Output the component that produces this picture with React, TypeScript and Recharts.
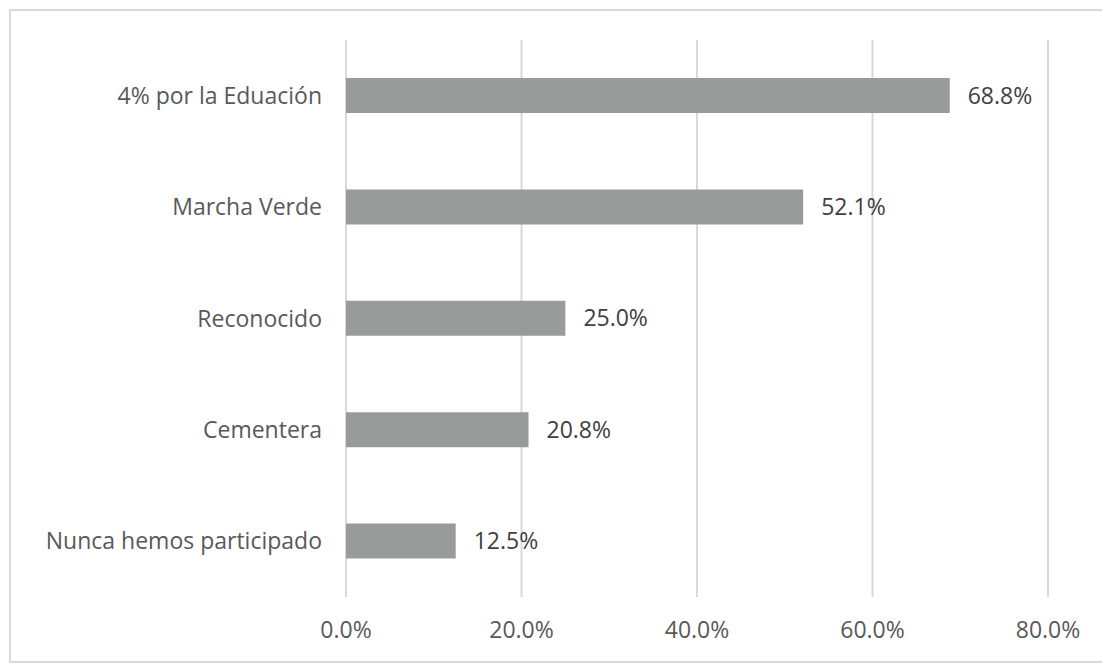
import { BarChart, Bar, XAxis, YAxis, CartesianGrid, LabelList } from 'recharts';

const categories = [
  '4% por la Eduación',
  'Marcha Verde',
  'Reconocido',
  'Cementera',
  'Nunca hemos participado',
];
const values = [68.8, 52.1, 25.0, 20.8, 12.5];
const xTicks = [0, 20, 40, 60, 80];

const data = categories.map((name, i) => ({ name, value: values[i] }));

const font = '"Open Sans", "Liberation Sans", sans-serif';

export default function App() {
  return (
    <div style={{ position: 'absolute', left: 0, top: 0, width: 1102, height: 667, background: '#fff', overflow: 'hidden', fontFamily: font }}>
      <div
        style={{
          position: 'absolute',
          left: 9,
          top: 9,
          width: 1110,
          height: 650,
          border: '2px solid #d9d9d9',
        }}
      />
      <div style={{ position: 'absolute', left: 0, top: 0 }}>
        <BarChart
          width={1102}
          height={667}
          data={data}
          layout="vertical"
          margin={{ top: 40, right: 54, bottom: 40, left: 0 }}
          barCategoryGap={0}
        >
          <CartesianGrid horizontal={false} stroke="#d9d9d9" strokeWidth={2} />
          <XAxis
            type="number"
            domain={[0, 80]}
            ticks={xTicks}
            height={30}
            axisLine={false}
            tickLine={false}
            tickMargin={19}
            tickFormatter={(v: number) => `${v.toFixed(1)}%`}
            tick={{ fill: '#595959', fontSize: 23, fontFamily: font }}
          />
          <YAxis
            type="category"
            dataKey="name"
            width={346}
            axisLine={false}
            tickLine={false}
            tickMargin={18}
            tick={{ fill: '#595959', fontSize: 23, fontFamily: font }}
          />
          <Bar dataKey="value" fill="#999b9b" barSize={35} isAnimationActive={false}>
            <LabelList
              dataKey="value"
              position="right"
              offset={18}
              formatter={(v: number) => `${Number(v).toFixed(1)}%`}
              style={{ fill: '#404040', fontSize: 23, fontFamily: font }}
            />
          </Bar>
        </BarChart>
      </div>
    </div>
  );
}
